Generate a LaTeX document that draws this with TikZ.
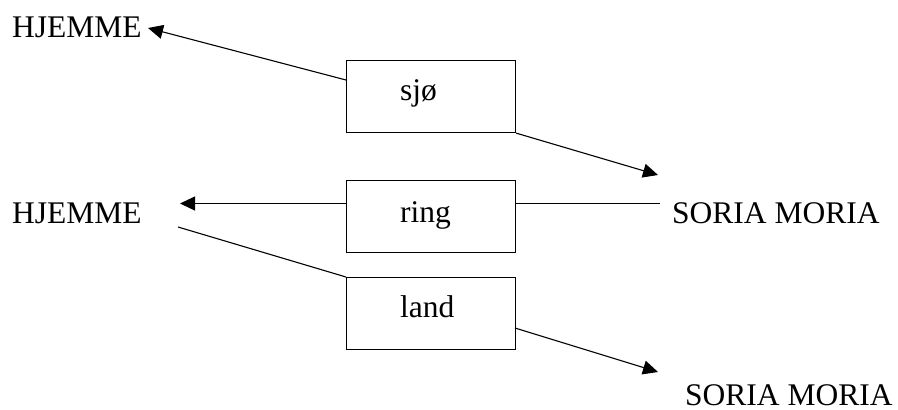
\documentclass[tikz,border=0pt]{standalone}
\usepackage{fontspec}
\setmainfont{Liberation Serif}
\usetikzlibrary{arrows.meta}
\begin{document}
\begin{tikzpicture}[x=1bp,y=-1bp,
  every node/.style={font=\fontsize{31.5bp}{36bp}\selectfont, inner sep=0pt},
  wordbox/.style={draw, line width=1.1bp, minimum width=169bp, minimum height=72bp, anchor=north west},
  conn/.style={line width=1.1bp},
  arr/.style={conn, -{Triangle[length=15bp,width=14bp]}}]
\useasboundingbox (0,0) rectangle (898,409);

% boxes
\node[wordbox] (sjo)  at (346,60)  {};
\node[wordbox] (ring) at (346,180) {};
\node[wordbox] (land) at (346,277) {};

% box labels
\node[anchor=base west] (tsjo)  at (400,100) {sjø};
\node[anchor=base west] (tring) at (400,222) {ring};
\node[anchor=base west] (tland) at (400,317) {land};

% place names
\node[anchor=base west] (home1) at (12,37)  {HJEMME};
\node[anchor=base west] (home2) at (12,223) {HJEMME};
\node[anchor=base west] (soria1) at (672,223) {SORIA MORIA};
\node[anchor=base west, text depth=0pt] (soria2) at (685,405) {SORIA MORIA};

% connector end points
\coordinate (s1) at (346,80);
\coordinate (h1) at (148,28);
\coordinate (s2) at (658,175);
\coordinate (h2) at (180,203.5);
\coordinate (r1) at (346,203.5);
\coordinate (r2) at (515,203.5);
\coordinate (m1) at (660,203.5);
\coordinate (h3) at (178,227);
\coordinate (l2) at (515,328);
\coordinate (s3) at (658,372);

% connectors
\draw[arr] (s1) -- (h1);
\draw[arr] (sjo.south east) -- (s2);
\draw[arr] (r1) -- (h2);
\draw[conn] (r2) -- (m1);
\draw[conn] (h3) -- (land.north west);
\draw[arr] (l2) -- (s3);
\end{tikzpicture}
\end{document}
